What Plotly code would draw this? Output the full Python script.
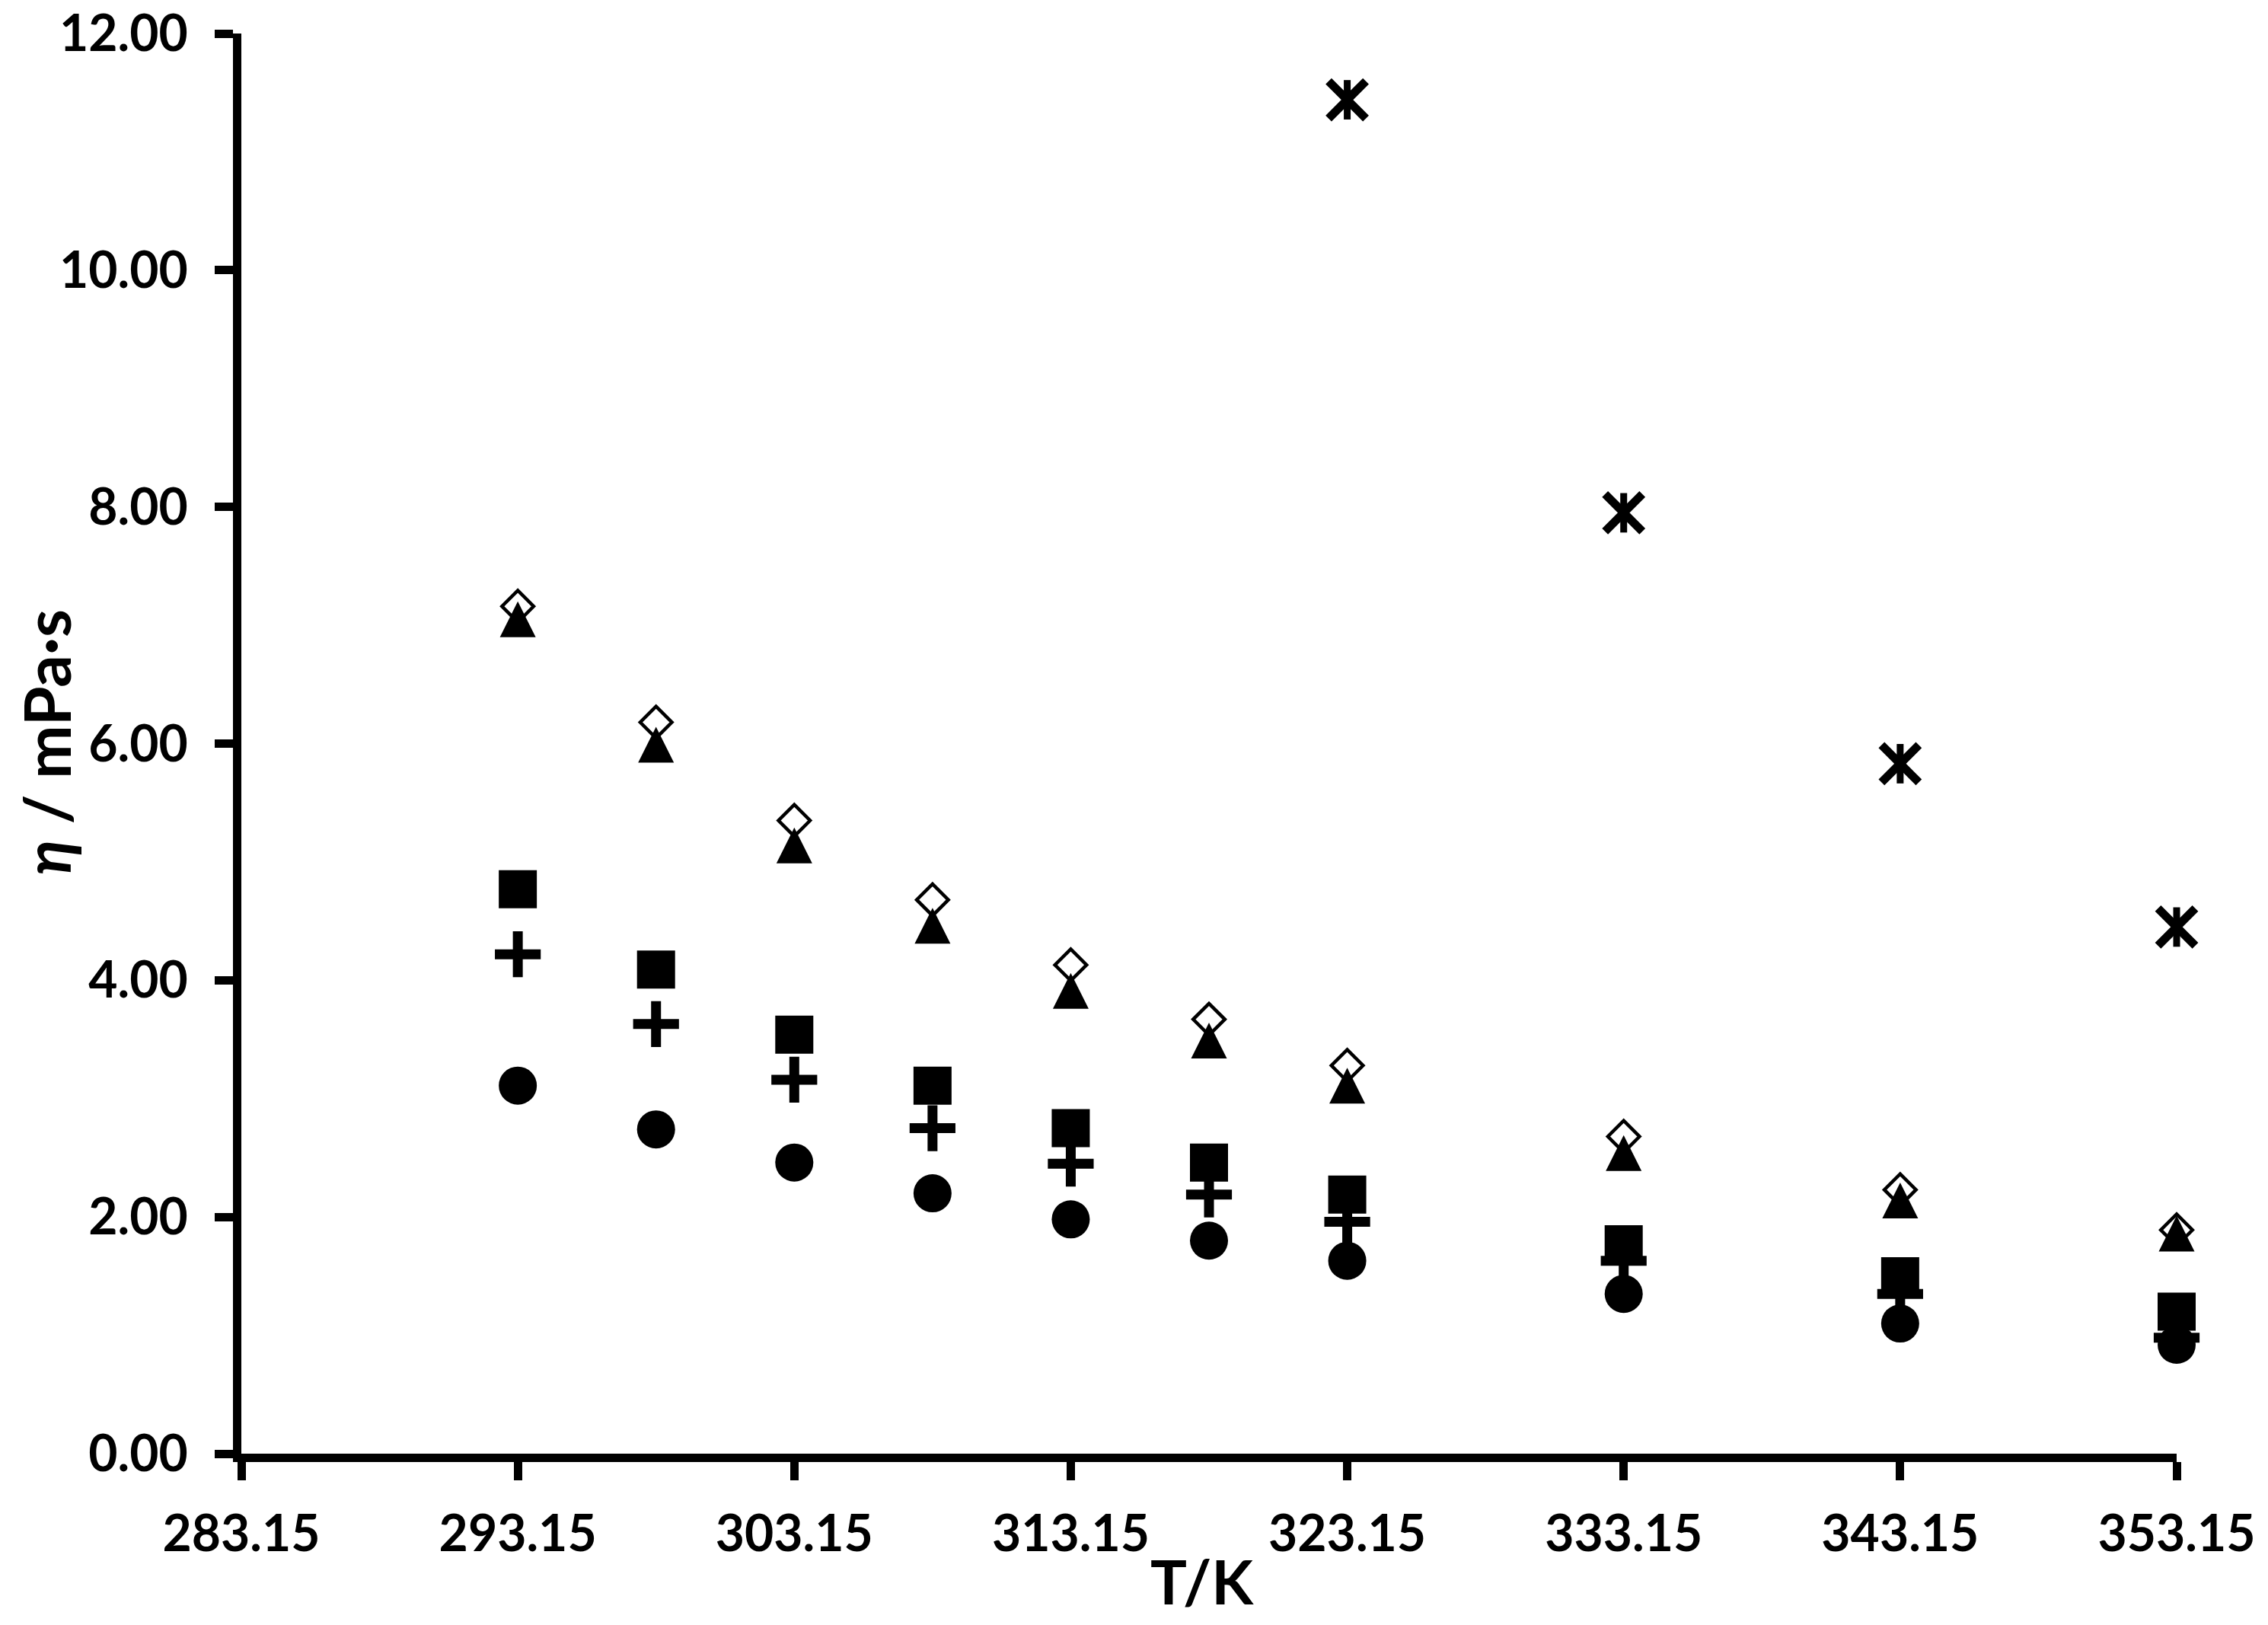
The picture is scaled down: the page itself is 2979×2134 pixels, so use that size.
import plotly.graph_objects as go

# ---- data ----
T = [293.15, 298.15, 303.15, 308.15, 313.15, 318.15, 323.15, 333.15, 343.15, 353.15]
T_star = [323.15, 333.15, 343.15, 353.15]

eta_diamond = [7.16, 6.18, 5.35, 4.68, 4.13, 3.67, 3.28, 2.68, 2.23, 1.89]
eta_triangle = [7.05, 5.99, 5.14, 4.46, 3.91, 3.49, 3.11, 2.54, 2.14, 1.86]
eta_square = [4.77, 4.09, 3.54, 3.11, 2.75, 2.46, 2.19, 1.77, 1.50, 1.20]
eta_plus = [4.22, 3.63, 3.16, 2.75, 2.45, 2.19, 1.96, 1.63, 1.35, 0.98]
eta_circle = [3.11, 2.74, 2.46, 2.20, 1.98, 1.80, 1.63, 1.35, 1.10, 0.92]
eta_star = [11.44, 7.95, 5.83, 4.45]

x_ticks = [283.15, 293.15, 303.15, 313.15, 323.15, 333.15, 343.15, 353.15]
y_ticks = [0, 2, 4, 6, 8, 10, 12]

# ---- layout constants ----
W, H = 2979, 2134
ML, MR, MT, MB = 317, 120, 44, 225
FONT = "Lato"
TRI_SIZE = 47
plot_w = W - ML - MR
plot_h = H - MT - MB
tri_shift = (TRI_SIZE / 2) / plot_h * 12.0  # centre arrow-shaped triangle on its value

fig = go.Figure()

fig.add_trace(go.Scatter(x=T, y=eta_diamond, mode="markers", cliponaxis=False,
                         marker=dict(symbol="diamond-open", size=32, color="black",
                                     line=dict(width=4.5, color="black"))))
fig.add_trace(go.Scatter(x=T, y=eta_triangle, mode="markers", cliponaxis=False, yaxis="y2",
                         marker=dict(symbol="arrow-up", size=TRI_SIZE, color="black",
                                     line=dict(width=0))))
fig.add_trace(go.Scatter(x=T, y=eta_plus, mode="markers", cliponaxis=False,
                         marker=dict(symbol="cross-thin", size=43, color="black",
                                     line=dict(width=13, color="black"))))
fig.add_trace(go.Scatter(x=T, y=eta_square, mode="markers", cliponaxis=False,
                         marker=dict(symbol="square", size=50, color="black",
                                     line=dict(width=0))))
fig.add_trace(go.Scatter(x=T, y=eta_circle, mode="markers", cliponaxis=False,
                         marker=dict(symbol="circle", size=50, color="black",
                                     line=dict(width=0))))
fig.add_trace(go.Scatter(x=T_star, y=eta_star, mode="markers", cliponaxis=False,
                         marker=dict(symbol="x-thin", size=49, color="black",
                                     line=dict(width=11, color="black"))))
fig.add_trace(go.Scatter(x=T_star, y=eta_star, mode="markers", cliponaxis=False,
                         marker=dict(symbol="line-ns", size=37, color="black",
                                     line=dict(width=9, color="black"))))

tickfont = dict(family=FONT, size=66, color="black", weight="bold")

fig.update_layout(
    template="none",
    width=W, height=H,
    margin=dict(l=ML, r=MR, t=MT, b=MB, pad=0, autoexpand=False),
    paper_bgcolor="white", plot_bgcolor="white",
    showlegend=False,
    xaxis=dict(range=[283.15, 353.15], tickvals=x_ticks, tickformat=".2f",
               automargin=False,
               showgrid=False, zeroline=False, showline=True, linecolor="black",
               linewidth=11, ticks="outside", ticklen=24, tickwidth=11,
               tickcolor="black", tickfont=tickfont, ticklabelstandoff=14),
    yaxis=dict(range=[0, 12], tickvals=y_ticks, tickformat=".2f",
               automargin=False,
               showgrid=False, zeroline=False, showline=True, linecolor="black",
               linewidth=11, ticks="outside", ticklen=24, tickwidth=11,
               tickcolor="black", tickfont=tickfont, ticklabelstandoff=22),
    yaxis2=dict(range=[-tri_shift, 12 - tri_shift], overlaying="y", visible=False,
                automargin=False, showgrid=False, zeroline=False),
)

# axis titles placed as annotations (pixel targets converted to paper coords)
fig.add_annotation(text="T/K", x=(1579 - ML) / plot_w, y=((H - 2076) - MB) / plot_h,
                   xref="paper", yref="paper", showarrow=False,
                   font=dict(family=FONT, size=80, color="black", weight="bold"),
                   xanchor="center", yanchor="middle")

fig.add_annotation(text="<i>η</i> / mPa·s", x=(60 - ML) / plot_w,
                   y=((H - 975) - MB) / plot_h, xref="paper", yref="paper",
                   showarrow=False, textangle=-90,
                   font=dict(family=FONT, size=84, color="black", weight="bold"),
                   xanchor="center", yanchor="middle")

fig.write_html("out.html", config={"displayModeBar": False},
               post_script="document.body.style.margin='0px';")
